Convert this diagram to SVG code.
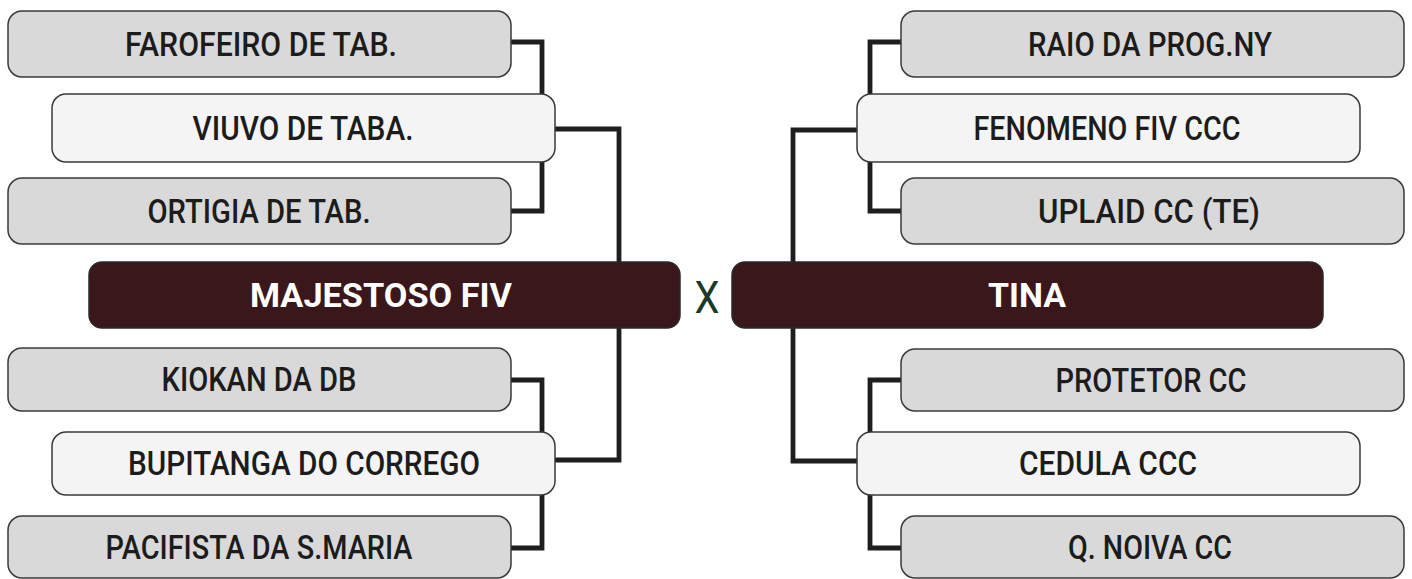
<svg xmlns="http://www.w3.org/2000/svg" width="1412" height="579" viewBox="0 0 1412 579">
<style>
.bg{fill:#ffffff}
.g{fill:#d9d9d9;stroke:#3a3a3a;stroke-width:1.5}
.l{fill:#f4f4f4;stroke:#3a3a3a;stroke-width:1.5}
.d{fill:#3a171a;stroke:#2a2a2a;stroke-width:1.5}
.t{font-family:Roboto,"Liberation Sans",sans-serif;font-weight:500;font-size:33px;fill:#1c1c1c;text-anchor:middle}
.tb{font-family:Roboto,"Liberation Sans",sans-serif;font-weight:700;font-size:34px;fill:#ffffff;text-anchor:middle}
.x{font-family:Roboto,"Liberation Sans",sans-serif;font-weight:400;font-size:44px;fill:#1b3a26;text-anchor:middle}
.c{fill:none;stroke:#1e1e1e;stroke-width:4.8;stroke-linejoin:miter}
</style>
<rect class="bg" x="0" y="0" width="1412" height="579"/>
<g id="connectors">
<path class="c" d="M511,42 H542 V96"/>
<path class="c" d="M542,160 V211 H511"/>
<path class="c" d="M555,129 H619 V460 H555"/>
<path class="c" d="M511,380 H542 V434"/>
<path class="c" d="M542,493 V548 H511"/>
<path class="c" d="M901,42 H870 V96"/>
<path class="c" d="M870,160 V211 H901"/>
<path class="c" d="M857,130 H793 V461 H857"/>
<path class="c" d="M901,380 H870 V435"/>
<path class="c" d="M870,493 V548 H901"/>
</g>
<g id="n-farofeiro"><rect class="g" x="8" y="11" width="503" height="66" rx="14"/><text class="t" x="261" y="56" textLength="272" lengthAdjust="spacingAndGlyphs">FAROFEIRO DE TAB.</text></g>
<g id="n-viuvo"><rect class="l" x="52" y="94" width="503" height="68" rx="14"/><text class="t" x="303" y="140" textLength="221" lengthAdjust="spacingAndGlyphs">VIUVO DE TABA.</text></g>
<g id="n-ortigia"><rect class="g" x="8" y="178" width="503" height="66" rx="14"/><text class="t" x="259" y="223" textLength="223" lengthAdjust="spacingAndGlyphs">ORTIGIA DE TAB.</text></g>
<g id="n-majestoso"><rect class="d" x="89" y="262" width="591" height="66" rx="13"/><text class="tb" x="381" y="307" textLength="262" lengthAdjust="spacingAndGlyphs">MAJESTOSO FIV</text></g>
<g id="n-x"><text class="x" x="707" y="313" textLength="25" lengthAdjust="spacingAndGlyphs">X</text></g>
<g id="n-kiokan"><rect class="g" x="8" y="348" width="503" height="63" rx="14"/><text class="t" x="259" y="391" textLength="195" lengthAdjust="spacingAndGlyphs">KIOKAN DA DB</text></g>
<g id="n-bupitanga"><rect class="l" x="52" y="432" width="503" height="63" rx="14"/><text class="t" x="304" y="475" textLength="352" lengthAdjust="spacingAndGlyphs">BUPITANGA DO CORREGO</text></g>
<g id="n-pacifista"><rect class="g" x="8" y="516" width="503" height="62" rx="14"/><text class="t" x="259" y="559" textLength="307" lengthAdjust="spacingAndGlyphs">PACIFISTA DA S.MARIA</text></g>
<g id="n-raio"><rect class="g" x="901" y="11" width="503" height="66" rx="14"/><text class="t" x="1150" y="56" textLength="244" lengthAdjust="spacingAndGlyphs">RAIO DA PROG.NY</text></g>
<g id="n-fenomeno"><rect class="l" x="857" y="94" width="503" height="68" rx="14"/><text class="t" x="1107" y="140" textLength="267" lengthAdjust="spacingAndGlyphs">FENOMENO FIV CCC</text></g>
<g id="n-uplaid"><rect class="g" x="901" y="178" width="503" height="66" rx="14"/><text class="t" x="1149" y="223" textLength="222" lengthAdjust="spacingAndGlyphs">UPLAID CC (TE)</text></g>
<g id="n-tina"><rect class="d" x="732" y="262" width="591" height="66" rx="13"/><text class="tb" x="1027" y="307" textLength="78" lengthAdjust="spacingAndGlyphs">TINA</text></g>
<g id="n-protetor"><rect class="g" x="901" y="349" width="503" height="62" rx="14"/><text class="t" x="1151" y="392" textLength="191" lengthAdjust="spacingAndGlyphs">PROTETOR CC</text></g>
<g id="n-cedula"><rect class="l" x="857" y="432" width="503" height="63" rx="14"/><text class="t" x="1108" y="475" textLength="178" lengthAdjust="spacingAndGlyphs">CEDULA CCC</text></g>
<g id="n-qnoiva"><rect class="g" x="901" y="516" width="503" height="62" rx="14"/><text class="t" x="1150" y="559" textLength="164" lengthAdjust="spacingAndGlyphs">Q. NOIVA CC</text></g>
</svg>
